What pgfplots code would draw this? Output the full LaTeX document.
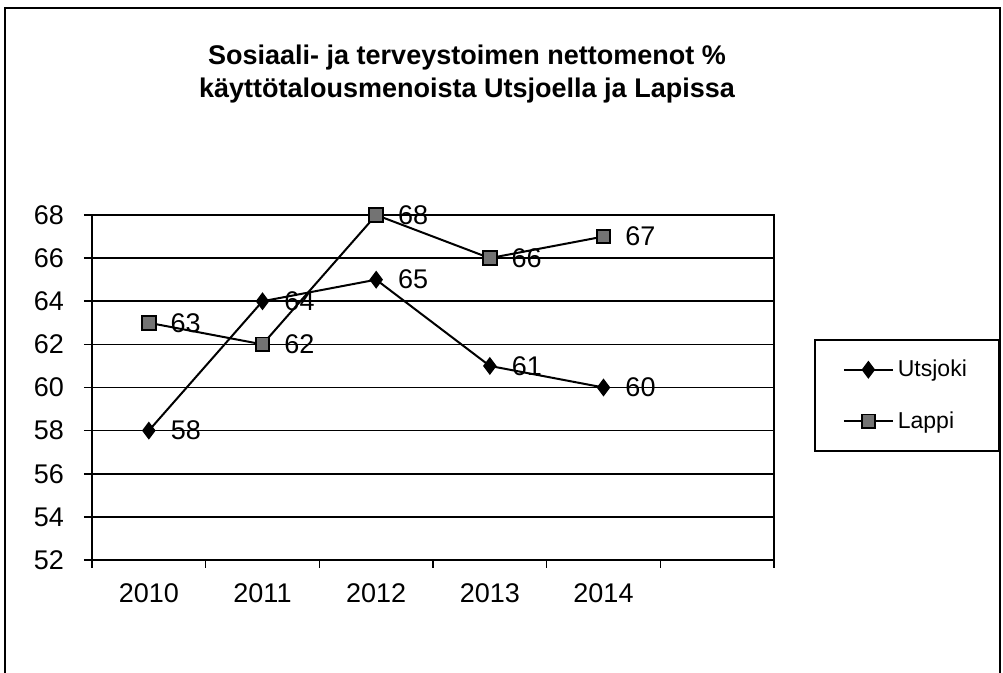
\documentclass[border=0pt]{standalone}
\usepackage{pgfplots}
\pgfplotsset{compat=1.18}
\usepackage{fontspec}
\setmainfont{Liberation Sans}
\newcommand{\fs}{\fontsize{13.5}{16}\selectfont}
\begin{document}
\begin{tikzpicture}
\useasboundingbox (0,0) rectangle (501.5pt,-336.5pt);
\draw[line width=0.8pt] (2.5pt,-336.5pt) -- (2.5pt,-4pt) -- (500pt,-4pt) -- (500pt,-336.5pt);
\node[anchor=base,font=\fs\bfseries,inner sep=0pt] at (233.5pt,-32.5pt) {Sosiaali- ja terveystoimen nettomenot \%};
\node[anchor=base,font=\fs\bfseries,inner sep=0pt] at (233.5pt,-49pt) {käyttötalousmenoista Utsjoella ja Lapissa};
\begin{axis}[
  at={(46pt,-280pt)}, anchor=south west,
  width=341pt, height=172.5pt, scale only axis,
  xmin=-0.5, xmax=5.5, ymin=52, ymax=68,
  xtick={0,1,2,3,4},
  xticklabels={2010,2011,2012,2013,2014},
  minor xtick={-0.5,0.5,1.5,2.5,3.5,4.5,5.5},
  ytick={52,54,...,68},
  tick pos=left,
  tick align=outside,
  major x tick style={draw=none},
  major tick length=4pt,
  minor tick length=4pt,
  every tick/.style={black, line width=0.8pt},
  minor x tick style={black, line width=0.8pt},
  ymajorgrids,
  grid style={black, line width=0.8pt},
  axis line style={black, line width=1pt},
  tick label style={font=\fs},
  /pgf/number format/assume math mode=true,
  xticklabel style={yshift=-4.5pt},
  yticklabel style={xshift=-6.5pt},
  clip=false,
  nodes near coords,
  nodes near coords style={anchor=west, inner sep=0pt, xshift=10.5pt, font=\fs, text=black},
  legend style={at={(1.0587,0.6406)}, anchor=north west, draw=black, line width=0.9pt,
     font=\fontsize{11.5}{13}\selectfont, inner xsep=14pt, inner ysep=8pt, row sep=12pt},
  legend cell align=left,
  legend image code/.code={\draw[mark repeat=2,mark phase=2] plot coordinates {(0cm,0cm)(0.43cm,0cm)(0.86cm,0cm)};},
]
\addplot[black, line width=1pt, mark=diamond*, mark size=3.7pt, mark options={fill=black}]
  coordinates {(0,58) (1,64) (2,65) (3,61) (4,60)};
\addlegendentry{Utsjoki}
\addplot[black, line width=1pt, mark=square*, mark size=3.4pt, mark options={fill=black!55, draw=black, line width=0.9pt}]
  coordinates {(0,63) (1,62) (2,68) (3,66) (4,67)};
\addlegendentry{Lappi}
\end{axis}
\end{tikzpicture}
\end{document}
